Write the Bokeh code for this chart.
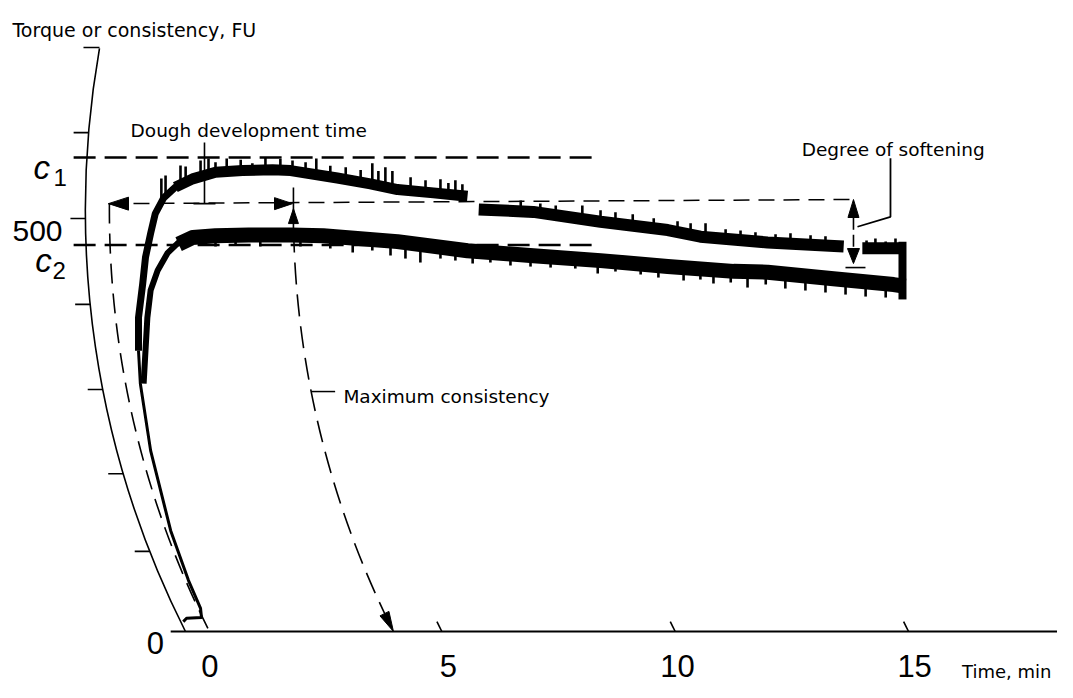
import math
from bokeh.plotting import figure
from bokeh.models import Range1d
from bokeh.core.properties import value
from bokeh.embed import file_html
from bokeh.resources import INLINE

# ---------------- data: time in min, consistency in FU ----------------
# upper trace (reaches C1): rise, first part, second part after the gap, last piece
upper_rise_t = [-1.50, -1.50, -1.41, -1.35, -1.24, -1.14, -0.96, -0.71, -0.34, 0.15]
upper_rise_fu = [340, 380, 421, 453, 482, 506, 525, 538, 548, 556]
upper_t = [-0.71, -0.34, 0.15, 0.73, 1.37, 1.76, 2.76, 3.47, 4.05, 4.82, 5.55]
upper_fu = [538, 548, 556, 558, 559, 558, 549, 542, 535, 531, 527]
upper2_t = [5.79, 6.96, 8.40, 9.84, 10.54, 11.98, 13.61]
upper2_fu = [511, 508, 496, 486, 478, 471, 466]
upper3_t = [14.01, 14.80]
upper3_fu = [464, 464]
# lower trace (C2 level)
lower_rise_t = [-1.39, -1.35, -1.31, -1.24, -1.09, -0.88, -0.64, -0.34, 0.15]
lower_rise_fu = [300, 340, 380, 413, 437, 458, 471, 480, 481]
lower_t = [-0.64, -0.34, 0.15, 0.86, 1.76, 2.46, 4.05, 5.55, 6.96, 8.40, 9.84,
           11.25, 11.98, 13.39, 14.68, 14.93]
lower_fu = [469, 477, 479, 480, 480, 479, 472, 461, 455, 449, 442, 436, 435, 427, 420, 418]
# end of the recording: pen drops from upper to lower trace
end_t = [14.87, 14.87]
end_fu = [472, 402]
# pen lead-in from zero
lead_t = [-0.54, -0.47, -0.15, -0.17, -0.43, -0.81, -1.24, -1.46, -1.50]
lead_fu = [12, 16, 17, 28, 62, 122, 219, 300, 340]

# noise spikes
spike_up_t = [-1.01, -0.92, -0.60, -0.49, -0.17, 0.00, 0.15, 0.39, 0.69, 0.94, 1.22, 1.54,
              1.80, 2.08, 2.31, 2.61, 2.94, 3.26, 3.51, 3.64, 3.79, 3.94, 4.33, 4.65,
              4.97, 5.14, 5.29, 5.44,
              6.69, 7.11, 7.44, 8.01, 8.40, 8.72, 9.09, 9.54, 10.05, 10.33, 10.65, 11.08,
              11.40, 11.72, 12.15, 12.47, 12.90, 13.22,
              14.10, 14.29, 14.51, 14.72]
spike_up_base = [521.8, 527.8, 539.9, 543.6, 552.0, 555.7, 558.1, 558.1, 558.5, 558.5, 558.5, 559.7,
                 558.5, 556.1, 553.7, 550.0, 547.6, 544.0, 541.6, 540.3, 539.1, 536.7, 534.3, 531.9,
                 530.6, 529.4, 527.0, 527.0,
                 509.7, 507.2, 504.8, 501.2, 497.6, 495.1, 491.5, 487.8, 485.4, 483.0, 479.4, 475.8,
                 473.3, 472.1, 469.7, 468.5, 468.5, 467.3,
                 463.7, 463.7, 463.7, 463.7]
spike_up_tip = [548.4, 552.0, 564.1, 562.9, 570.2, 572.6, 568.0, 572.6, 571.0, 567.0, 573.8, 572.0,
                570.2, 568.0, 572.6, 564.0, 562.1, 558.7, 566.8, 557.5, 562.1, 557.5, 550.0, 546.4,
                547.6, 543.0, 546.4, 541.6,
                521.8, 518.1, 515.7, 515.7, 509.9, 507.7, 505.2, 500.2, 496.6, 494.3, 494.1, 487.1,
                485.6, 483.4, 480.8, 482.0, 479.6, 478.4,
                473.3, 475.8, 472.3, 475.8]
spike_dn_t = [0.15, 0.58, 1.11, 1.97, 2.61, 3.09, 3.51, 3.90, 4.22, 4.54, 4.97, 5.29, 5.66,
              6.04, 6.47, 6.90, 7.33, 7.86, 8.34, 8.72, 9.26, 9.64, 10.18, 10.54, 10.82,
              11.19, 11.55, 11.94, 12.36, 12.79, 13.22, 13.65, 14.08, 14.51]
spike_dn_base = [473.3, 473.3, 473.3, 473.3, 470.9, 469.7, 468.5, 467.3, 464.9, 463.7, 461.2,
                 461.2, 458.8, 456.4, 454.0, 451.5, 450.3, 447.9, 445.5, 444.3, 441.8, 439.4,
                 437.0, 435.8, 434.6, 432.2, 431.0, 429.8, 427.3, 424.9, 422.5, 420.1, 417.6, 415.2]
spike_dn_tip = [466.1, 467.3, 466.1, 466.1, 463.7, 458.8, 461.2, 455.2, 451.5, 446.7, 451.5,
                449.1, 445.5, 446.7, 443.1, 441.8, 440.6, 439.4, 433.4, 435.8, 432.2, 428.5,
                424.9, 426.1, 421.3, 422.5, 416.4, 420.1, 415.2, 412.8, 410.4, 407.9, 405.5, 404.3]

# scale and reference levels
fu_ticks = [97, 191, 293, 396, 500, 604]
x_ticks = [5, 10, 15]
x_tick_labels = ["0", "5", "10", "15"]
x_label_pos = [0.03, 5.14, 10.05, 15.13]
c1_level = 574
c2_level = 468
c_line_start = -2.89
c1_end, c2_end = 8.25, 8.34
arrival_t = [-2.143, 13.82]       # dough development dimension line
arrival_fu = [518, 523]
peak_t = 1.82                     # maximum consistency
peak_fu = [537.5, 485.4]
ddt_t = -0.086                    # leader of "Dough development time"
ddt_fu = [592, 518]
soft_t = 13.82                    # degree of softening
soft_fu = [501, 464]
soft_base_fu = 440.6

# ---------------- geometry of the page ----------------
W, H = 1057, 682
PX_MIN = 46.67
PX_FU = 0.826
X0 = -208 / PX_MIN
X1 = X0 + W / PX_MIN
Y1 = 631 / PX_FU
Y0 = Y1 - H / PX_FU
R_PX = 937.3                       # radius of the recorder's pen arc (screen px)
ARC_CY = 510.1                     # arc centre level (FU)
AXIS_CX = 17.446                   # arc centre of the torque scale (min)
ARRIVAL_CX = 17.960
MAXC_CX = 21.903


def arc_t(fu, cx):
    dy = (fu - ARC_CY) * PX_FU
    return cx - math.sqrt(R_PX ** 2 - dy ** 2) / PX_MIN


def ang(fu):
    return 180 - math.degrees(math.asin((fu - ARC_CY) * PX_FU / R_PX))


def tri(tt, tf, dx, dy, L, Wd):
    bx, by = -dx * L, -dy * L
    px_, py_ = -dy * Wd / 2, dx * Wd / 2
    xs = [tt, tt + (bx + px_) / PX_MIN, tt + (bx - px_) / PX_MIN]
    ys = [tf, tf + (by + py_) / PX_FU, tf + (by - py_) / PX_FU]
    return xs, ys


p = figure(width=W, height=H, x_range=Range1d(X0, X1), y_range=Range1d(Y0, Y1),
           output_backend="svg", toolbar_location=None, min_border=0,
           x_axis_location=None, y_axis_location=None)
p.grid.visible = False
p.outline_line_color = None
p.background_fill_color = "white"
p.border_fill_color = "white"

K = "black"

# curved torque scale
p.arc(x=[AXIS_CX], y=[ARC_CY], radius=R_PX, radius_units="screen",
      start_angle=ang(706), end_angle=ang(0), start_angle_units="deg", end_angle_units="deg",
      line_color=K, line_width=1.6)
top_t = arc_t(706, AXIS_CX)
p.line([top_t - 16 / PX_MIN, top_t], [707, 707], line_color=K, line_width=1.6)
tx1 = [arc_t(f, AXIS_CX) for f in fu_ticks]
tx0 = [t - 15 / PX_MIN for t in tx1]
p.segment(x0=tx0, y0=fu_ticks, x1=tx1, y1=fu_ticks, line_color=K, line_width=1.6)

# time axis with arc-shaped ticks
p.line([-0.81, X1], [0, 0], line_color=K, line_width=2)
bottom_off = AXIS_CX - arc_t(0, AXIS_CX)
p.arc(x=[t + bottom_off for t in x_ticks], y=[ARC_CY] * len(x_ticks), radius=R_PX,
      radius_units="screen", start_angle=ang(12), end_angle=ang(0),
      start_angle_units="deg", end_angle_units="deg", line_color=K, line_width=1.6)

# reference dashed lines
p.line([c_line_start, c1_end], [c1_level, c1_level], line_color=K, line_width=2.5, line_dash="22 9")
p.line([c_line_start, c2_end], [c2_level, c2_level], line_color=K, line_width=2.5, line_dash="22 9")
p.line(arrival_t, arrival_fu, line_color=K, line_width=1.5, line_dash="16 9")

# dashed pen arcs
p.arc(x=[ARRIVAL_CX], y=[ARC_CY], radius=R_PX, radius_units="screen",
      start_angle=ang(arrival_fu[0]), end_angle=ang(0), start_angle_units="deg",
      end_angle_units="deg", line_color=K, line_width=1.6, line_dash="20 10")
p.arc(x=[MAXC_CX], y=[ARC_CY], radius=R_PX, radius_units="screen",
      start_angle=ang(peak_fu[1]), end_angle=ang(20), start_angle_units="deg",
      end_angle_units="deg", line_color=K, line_width=1.6, line_dash="22 10")

# traces
p.line(lead_t, lead_fu, line_color=K, line_width=3, line_join="round")
p.line(upper_rise_t, upper_rise_fu, line_color=K, line_width=7, line_join="round")
p.line(upper_t, upper_fu, line_color=K, line_width=11, line_join="round")
p.line(upper2_t, upper2_fu, line_color=K, line_width=12, line_join="round")
p.line(upper3_t, upper3_fu, line_color=K, line_width=12, line_join="round")
p.line(lower_rise_t, lower_rise_fu, line_color=K, line_width=6, line_join="round")
p.line(lower_t, lower_fu, line_color=K, line_width=15, line_join="round")
p.line(end_t, end_fu, line_color=K, line_width=8)
p.segment(x0=spike_up_t, y0=spike_up_base, x1=spike_up_t, y1=spike_up_tip, line_color=K, line_width=2.6)
p.segment(x0=spike_dn_t, y0=spike_dn_base, x1=spike_dn_t, y1=spike_dn_tip, line_color=K, line_width=2.6)

# markers
p.line([peak_t, peak_t], peak_fu, line_color=K, line_width=1.6)
p.line([ddt_t, ddt_t], ddt_fu, line_color=K, line_width=1.6)
p.line([ddt_t - 11 / PX_MIN, ddt_t + 11 / PX_MIN], [ddt_fu[1], ddt_fu[1]], line_color=K, line_width=1.6)
p.line([soft_t, soft_t], soft_fu, line_color=K, line_width=1.6, line_dash="12 5")
p.line([soft_t - 8 / PX_MIN, soft_t + 12 / PX_MIN], [soft_base_fu, soft_base_fu], line_color=K, line_width=1.6)
p.line([soft_t + 4 / PX_MIN, soft_t + 37 / PX_MIN, soft_t + 37 / PX_MIN], [490, 502, 573],
       line_color=K, line_width=1.8)
mc_fu = 290.5
p.line([arc_t(mc_fu, MAXC_CX), arc_t(mc_fu, MAXC_CX) + 24 / PX_MIN], [mc_fu, mc_fu], line_color=K, line_width=1.5)

# arrow heads
heads = [
    (arrival_t[0], arrival_fu[0], -1, 0, 20, 13),
    (peak_t - 0.02, arrival_fu[0], 1, 0, 18, 12),
    (peak_t, 512, 0, 1, 15, 10),
    (soft_t, arrival_fu[1], 0, 1, 18, 11),
    (soft_t, 445.5, 0, -1, 15, 12),
]
th = math.radians(ang(0))
heads.append((arc_t(0, MAXC_CX), 0, -math.sin(th), math.cos(th), 20, 10))
xs, ys = [], []
for h in heads:
    a, b = tri(*h)
    xs.append(a)
    ys.append(b)
p.patches(xs, ys, fill_color=K, line_color=K, line_width=1)

# texts
small = dict(text_font=value("DejaVu Sans"), text_font_size="18.5px", text_color=K,
             text_baseline="alphabetic", text_align="left")
p.text(x=[-4.20], y=[728.8], text=["Torque or consistency, FU"],
       text_font=value("DejaVu Sans"), text_font_size="19px", text_color=K,
       text_baseline="alphabetic", text_align="left")
p.text(x=[-1.67], y=[606.5], text=["Dough development time"], **small)
p.text(x=[12.71], y=[583.5], text=["Degree of softening"], **small)
p.text(x=[2.89], y=[284.5], text=["Maximum consistency"], **small)
p.text(x=[X1 - 6 / PX_MIN], y=[Y0 + 11 / PX_FU], text=["Time, min"],
       text_font=value("DejaVu Sans"), text_font_size="18px", text_color=K,
       text_baseline="alphabetic", text_align="right")

big = dict(text_font=value("Liberation Sans"), text_color=K, text_baseline="alphabetic")
p.text(x=[-4.20], y=[485.4], text=["500"], text_font_size="30px", text_align="left", **big)
p.text(x=[-1.136], y=[-14.5], text=["0"], text_font_size="31px", text_align="center", **big)
p.text(x=x_label_pos, y=[Y0 + 17 / PX_FU] * 4, text=x_tick_labels, text_font_size="31px",
       text_align="center", **big)
p.text(x=[-3.75, -3.71], y=[561.7, 449.1], text=["c", "c"], text_font_size="33px",
       text_font_style="italic", text_align="left", **big)
p.text(x=[-3.32, -3.34], y=[549.6, 437.0], text=["1", "2"], text_font_size="24px", text_align="left", **big)

open("out.html", "w").write(file_html(p, INLINE))
